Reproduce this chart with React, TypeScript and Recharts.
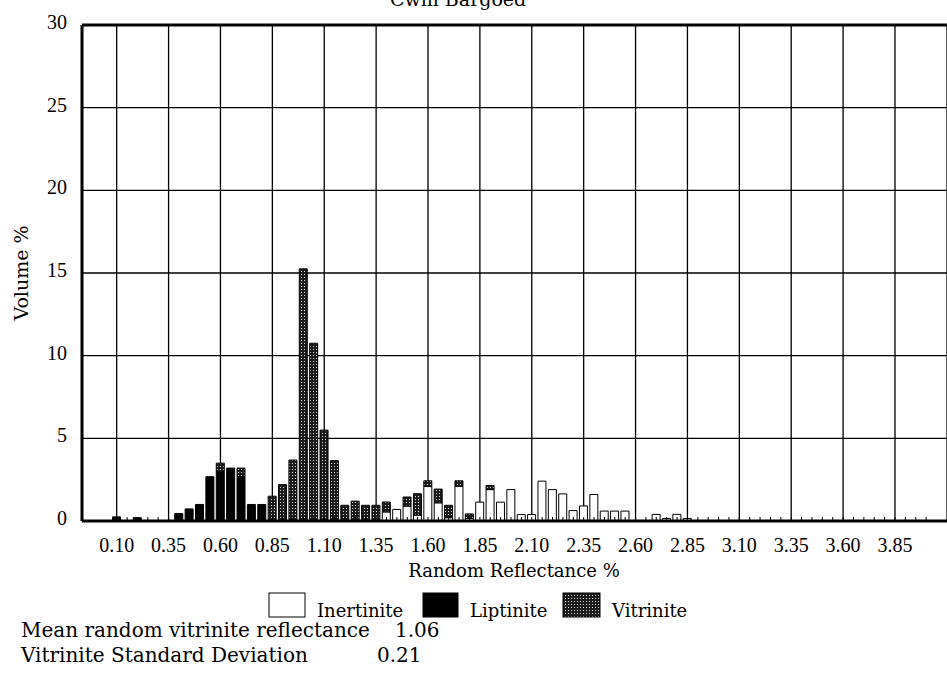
import React from 'react';
import { BarChart, Bar, XAxis, YAxis, CartesianGrid, ReferenceLine } from 'recharts';

const categories = [
  '0.10', '0.15', '0.20', '0.25', '0.30', '0.35', '0.40', '0.45', '0.50', '0.55',
  '0.60', '0.65', '0.70', '0.75', '0.80', '0.85', '0.90', '0.95', '1.00', '1.05',
  '1.10', '1.15', '1.20', '1.25', '1.30', '1.35', '1.40', '1.45', '1.50', '1.55',
  '1.60', '1.65', '1.70', '1.75', '1.80', '1.85', '1.90', '1.95', '2.00', '2.05',
  '2.10', '2.15', '2.20', '2.25', '2.30', '2.35', '2.40', '2.45', '2.50', '2.55',
  '2.60', '2.65', '2.70', '2.75', '2.80', '2.85', '2.90', '2.95', '3.00', '3.05',
  '3.10', '3.15', '3.20', '3.25', '3.30', '3.35', '3.40', '3.45', '3.50', '3.55',
  '3.60', '3.65', '3.70', '3.75', '3.80', '3.85', '3.90', '3.95', '4.00',
];

const inertinite = [
  0, 0, 0, 0, 0, 0, 0, 0, 0, 0,
  0, 0, 0, 0, 0, 0, 0, 0, 0, 0,
  0, 0, 0, 0, 0, 0, 0.55, 0.7, 0.9, 0.35,
  2.1, 1.1, 0.2, 2.1, 0.15, 1.14, 1.9, 1.14, 1.9, 0.39,
  0.39, 2.41, 1.9, 1.64, 0.63, 0.91, 1.6, 0.6, 0.6, 0.6,
  0, 0, 0.4, 0.15, 0.4, 0.15, 0, 0, 0, 0,
  0, 0, 0, 0, 0, 0, 0, 0, 0, 0,
  0, 0, 0, 0, 0, 0, 0, 0, 0,
];

const liptinite = [
  0.25, 0, 0.2, 0, 0, 0, 0.45, 0.73, 1.0, 2.68,
  3.0, 3.2, 2.7, 1.0, 1.0, 0, 0, 0, 0, 0,
  0, 0, 0, 0, 0, 0, 0, 0, 0, 0,
  0, 0, 0, 0, 0, 0, 0, 0, 0, 0,
  0, 0, 0, 0, 0, 0, 0, 0, 0, 0,
  0, 0, 0, 0, 0, 0, 0, 0, 0, 0,
  0, 0, 0, 0, 0, 0, 0, 0, 0, 0,
  0, 0, 0, 0, 0, 0, 0, 0, 0,
];

const vitrinite = [
  0, 0, 0, 0, 0, 0, 0, 0, 0, 0,
  0.5, 0, 0.5, 0, 0, 1.5, 2.2, 3.69, 15.25, 10.75,
  5.5, 3.65, 0.95, 1.2, 0.95, 0.95, 0.6, 0, 0.55, 1.3,
  0.33, 0.83, 0.75, 0.33, 0.28, 0, 0.25, 0, 0, 0,
  0, 0, 0, 0, 0, 0, 0, 0, 0, 0,
  0, 0, 0, 0, 0, 0, 0, 0, 0, 0,
  0, 0, 0, 0, 0, 0, 0, 0, 0, 0,
  0, 0, 0, 0, 0, 0, 0, 0, 0,
];

const tickLabels = ['0.10', '0.35', '0.60', '0.85', '1.10', '1.35', '1.60', '1.85', '2.10', '2.35', '2.60', '2.85', '3.10', '3.35', '3.60', '3.85'];
const yTicks = [0, 5, 10, 15, 20, 25, 30];

const series = [
  { key: 'inertinite', name: 'Inertinite', fill: '#ffffff' },
  { key: 'liptinite', name: 'Liptinite', fill: '#000000' },
  { key: 'vitrinite', name: 'Vitrinite', fill: 'url(#stipple)' },
];

const data = categories.map((cat, i) => ({
  cat,
  inertinite: inertinite[i],
  liptinite: liptinite[i],
  vitrinite: vitrinite[i],
}));

const SERIF = '"DejaVu Serif", serif';
const TIMES = '"Liberation Serif", "Times New Roman", serif';

const XTick = (props: any) => {
  const { x, y, payload } = props;
  const isLabel = tickLabels.includes(payload.value);
  return (
    <g>
      <line x1={x} x2={x} y1={y - 17} y2={y - 21} stroke="#000" strokeWidth={1} />
      {isLabel && (
        <text x={x} y={y} dy="0.71em" textAnchor="middle" fontFamily={TIMES} fontSize={20} fill="#000">
          {payload.value}
        </text>
      )}
    </g>
  );
};

const YTick = (props: any) => {
  const { x, y, payload } = props;
  return (
    <text x={x} y={y} dy={4} textAnchor="end" fontFamily={TIMES} fontSize={20} fill="#000">
      {payload.value}
    </text>
  );
};

const legendPos = [
  { box: [269, 593, 36, 24], tx: 317 },
  { box: [423, 593, 35, 24], tx: 470 },
  { box: [563, 593, 37, 24], tx: 612 },
];

export default function App() {
  return (
    <div style={{ position: 'absolute', left: 0, top: 0, width: 947, height: 684, background: '#fff' }}>
      <BarChart
        width={947}
        height={684}
        data={data}
        margin={{ top: 25, right: 0, left: 0, bottom: 123 }}
        barSize={8}
      >
        <defs>
          <pattern id="stipple" width="3" height="3" patternUnits="userSpaceOnUse">
            <rect width="3" height="3" fill="#1c1c1c" />
            <rect x="1" y="1" width="1" height="1" fill="#d8d8d8" />
          </pattern>
        </defs>
        <XAxis
          xAxisId="grid"
          dataKey="cat"
          hide
          ticks={tickLabels}
          interval={0}
          padding={{ left: 29.5, right: 15.7 }}
        />
        <CartesianGrid xAxisId="grid" stroke="#000" strokeWidth={1.3} />
        <XAxis
          dataKey="cat"
          interval={0}
          tickLine={false}
          tickSize={0}
          tickMargin={17}
          height={40}
          axisLine={{ stroke: '#000', strokeWidth: 3 }}
          padding={{ left: 29.5, right: 15.7 }}
          tick={<XTick />}
        />
        <YAxis
          domain={[0, 30]}
          ticks={yTicks}
          width={82}
          interval={0}
          tickLine={false}
          tickSize={0}
          tickMargin={15}
          axisLine={{ stroke: '#000', strokeWidth: 3 }}
          tick={<YTick />}
        />
        <ReferenceLine y={30} stroke="#000" strokeWidth={3} />
        {series.map((s) => (
          <Bar
            key={s.key}
            dataKey={s.key}
            name={s.name}
            stackId="a"
            fill={s.fill}
            stroke="#000"
            strokeWidth={1}
            isAnimationActive={false}
          />
        ))}
        <text x={390} y={6} fontFamily={SERIF} fontSize={19} fill="#000">Cwm Bargoed</text>
        <text
          transform="translate(21,273) rotate(-90)"
          textAnchor="middle"
          dominantBaseline="central"
          fontFamily={SERIF}
          fontSize={19}
          fill="#000"
        >
          Volume %
        </text>
        <text x={514} y={577} textAnchor="middle" fontFamily={SERIF} fontSize={18} fill="#000">
          Random Reflectance %
        </text>
        {series.map((s, i) => {
          const [bx, by, bw, bh] = legendPos[i].box;
          return (
            <g key={'lg' + s.key}>
              <rect x={bx} y={by} width={bw} height={bh} fill={s.fill} stroke="#000" strokeWidth={1} />
              <text x={legendPos[i].tx} y={617} fontFamily={SERIF} fontSize={18} fill="#000">{s.name}</text>
            </g>
          );
        })}
        <text x={21} y={637} fontFamily={SERIF} fontSize={20} fill="#000">Mean random vitrinite reflectance</text>
        <text x={395} y={637} fontFamily={SERIF} fontSize={20} fill="#000">1.06</text>
        <text x={21} y={662} fontFamily={SERIF} fontSize={20} fill="#000">Vitrinite Standard Deviation</text>
        <text x={377} y={662} fontFamily={SERIF} fontSize={20} fill="#000">0.21</text>
      </BarChart>
    </div>
  );
}
